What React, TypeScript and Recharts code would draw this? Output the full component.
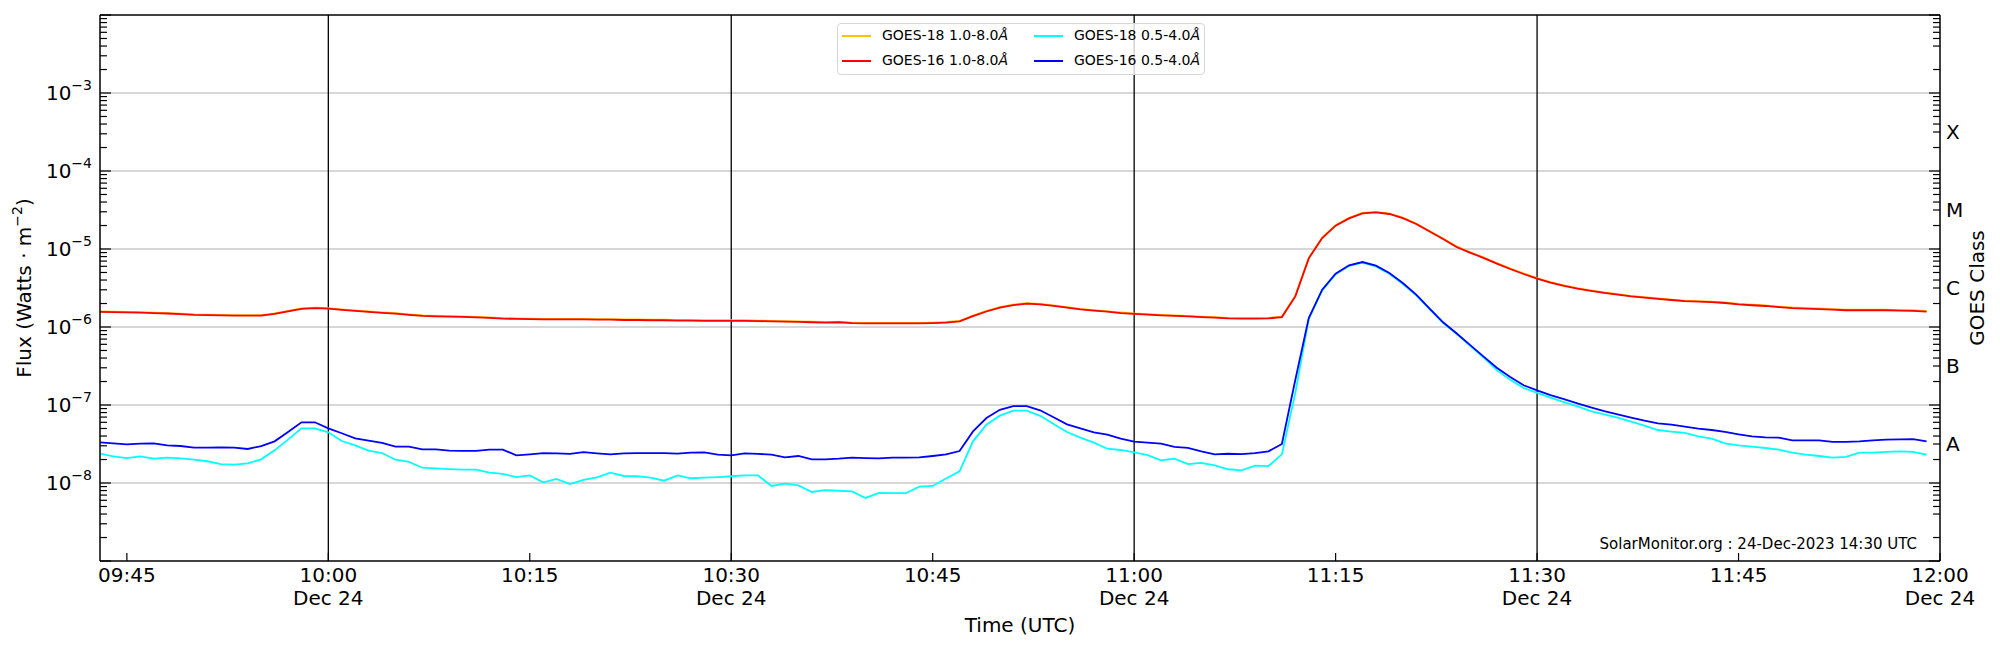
import React from 'react';
import { LineChart, Line, XAxis, YAxis, CartesianGrid, ReferenceLine } from 'recharts';

// one sample per minute, first sample at 09:43 UTC
const START_MINUTE = 9 * 60 + 43;

// GOES-18 1.0-8.0 A (almost hidden under GOES-16)
const goes18Long = [
  1.58e-6, 1.57e-6, 1.56e-6, 1.55e-6, 1.53e-6, 1.51e-6, 1.48e-6, 1.45e-6, 1.44e-6, 1.43e-6,
  1.42e-6, 1.42e-6, 1.42e-6, 1.49e-6, 1.61e-6, 1.73e-6, 1.77e-6, 1.74e-6, 1.68e-6, 1.63e-6,
  1.58e-6, 1.54e-6, 1.5e-6, 1.45e-6, 1.41e-6, 1.39e-6, 1.38e-6, 1.37e-6, 1.35e-6, 1.33e-6,
  1.3e-6, 1.29e-6, 1.28e-6, 1.27e-6, 1.27e-6, 1.27e-6, 1.27e-6, 1.26e-6, 1.26e-6, 1.25e-6,
  1.25e-6, 1.24e-6, 1.24e-6, 1.23e-6, 1.23e-6, 1.22e-6, 1.22e-6, 1.22e-6, 1.22e-6, 1.21e-6,
  1.2e-6, 1.19e-6, 1.18e-6, 1.17e-6, 1.16e-6, 1.16e-6, 1.14e-6, 1.13e-6, 1.13e-6, 1.13e-6,
  1.13e-6, 1.13e-6, 1.14e-6, 1.16e-6, 1.2e-6, 1.4e-6, 1.61e-6, 1.8e-6, 1.94e-6, 2.02e-6,
  1.98e-6, 1.89e-6, 1.8e-6, 1.71e-6, 1.65e-6, 1.59e-6, 1.54e-6, 1.49e-6, 1.46e-6, 1.43e-6,
  1.41e-6, 1.39e-6, 1.36e-6, 1.34e-6, 1.31e-6, 1.3e-6, 1.3e-6, 1.31e-6, 1.36e-6, 2.52e-6,
  7.7e-6, 1.4e-5, 2.02e-5, 2.51e-5, 2.9e-5, 2.99e-5, 2.85e-5, 2.53e-5, 2.12e-5, 1.7e-5,
  1.36e-5, 1.08e-5, 9.15e-6, 7.82e-6, 6.6e-6, 5.63e-6, 4.86e-6, 4.24e-6, 3.76e-6, 3.41e-6,
  3.15e-6, 2.95e-6, 2.77e-6, 2.64e-6, 2.51e-6, 2.42e-6, 2.33e-6, 2.25e-6, 2.18e-6, 2.15e-6,
  2.12e-6, 2.06e-6, 1.98e-6, 1.93e-6, 1.89e-6, 1.83e-6, 1.78e-6, 1.75e-6, 1.73e-6, 1.7e-6,
  1.67e-6, 1.67e-6, 1.67e-6, 1.67e-6, 1.65e-6, 1.64e-6, 1.6e-6,
];

// GOES-16 1.0-8.0 A
const goes16Long = [
  1.56e-6, 1.55e-6, 1.54e-6, 1.53e-6, 1.51e-6, 1.49e-6, 1.46e-6, 1.43e-6, 1.42e-6, 1.41e-6,
  1.4e-6, 1.4e-6, 1.4e-6, 1.47e-6, 1.59e-6, 1.71e-6, 1.75e-6, 1.72e-6, 1.66e-6, 1.61e-6,
  1.56e-6, 1.52e-6, 1.48e-6, 1.43e-6, 1.39e-6, 1.37e-6, 1.36e-6, 1.35e-6, 1.33e-6, 1.31e-6,
  1.28e-6, 1.27e-6, 1.26e-6, 1.25e-6, 1.25e-6, 1.25e-6, 1.25e-6, 1.24e-6, 1.24e-6, 1.23e-6,
  1.23e-6, 1.22e-6, 1.22e-6, 1.21e-6, 1.21e-6, 1.2e-6, 1.2e-6, 1.2e-6, 1.2e-6, 1.19e-6,
  1.18e-6, 1.17e-6, 1.16e-6, 1.15e-6, 1.14e-6, 1.15e-6, 1.12e-6, 1.11e-6, 1.11e-6, 1.11e-6,
  1.11e-6, 1.11e-6, 1.12e-6, 1.14e-6, 1.18e-6, 1.38e-6, 1.58e-6, 1.77e-6, 1.91e-6, 1.99e-6,
  1.95e-6, 1.86e-6, 1.77e-6, 1.68e-6, 1.62e-6, 1.57e-6, 1.51e-6, 1.47e-6, 1.44e-6, 1.41e-6,
  1.39e-6, 1.37e-6, 1.34e-6, 1.32e-6, 1.29e-6, 1.28e-6, 1.28e-6, 1.29e-6, 1.34e-6, 2.47e-6,
  7.59e-6, 1.38e-5, 1.99e-5, 2.47e-5, 2.86e-5, 2.95e-5, 2.81e-5, 2.49e-5, 2.09e-5, 1.68e-5,
  1.34e-5, 1.06e-5, 9.0e-6, 7.7e-6, 6.5e-6, 5.54e-6, 4.78e-6, 4.17e-6, 3.7e-6, 3.36e-6,
  3.1e-6, 2.9e-6, 2.73e-6, 2.6e-6, 2.47e-6, 2.38e-6, 2.29e-6, 2.22e-6, 2.15e-6, 2.12e-6,
  2.09e-6, 2.03e-6, 1.95e-6, 1.9e-6, 1.86e-6, 1.8e-6, 1.75e-6, 1.72e-6, 1.7e-6, 1.67e-6,
  1.64e-6, 1.64e-6, 1.64e-6, 1.64e-6, 1.62e-6, 1.61e-6, 1.57e-6,
];

// GOES-18 0.5-4.0 A
const goes18Short = [
  2.38e-8, 2.2e-8, 2.09e-8, 2.2e-8, 2.05e-8, 2.11e-8, 2.07e-8, 1.99e-8, 1.9e-8, 1.75e-8,
  1.72e-8, 1.79e-8, 2.01e-8, 2.62e-8, 3.6e-8, 5.02e-8, 5.02e-8, 4.46e-8, 3.45e-8, 3.04e-8,
  2.6e-8, 2.42e-8, 1.99e-8, 1.86e-8, 1.57e-8, 1.54e-8, 1.51e-8, 1.48e-8, 1.48e-8, 1.36e-8,
  1.31e-8, 1.19e-8, 1.25e-8, 1.02e-8, 1.13e-8, 9.7e-9, 1.1e-8, 1.18e-8, 1.36e-8, 1.23e-8,
  1.22e-8, 1.17e-8, 1.07e-8, 1.25e-8, 1.15e-8, 1.17e-8, 1.19e-8, 1.22e-8, 1.25e-8, 1.25e-8,
  9.16e-9, 9.84e-9, 9.3e-9, 7.67e-9, 8.1e-9, 7.95e-9, 7.8e-9, 6.43e-9, 7.45e-9, 7.4e-9,
  7.4e-9, 9.0e-9, 9.16e-9, 1.14e-8, 1.41e-8, 3.42e-8, 5.6e-8, 7.3e-8, 8.45e-8, 8.45e-8,
  7.26e-8, 5.7e-8, 4.51e-8, 3.81e-8, 3.29e-8, 2.75e-8, 2.65e-8, 2.47e-8, 2.28e-8, 1.95e-8,
  2.05e-8, 1.75e-8, 1.81e-8, 1.68e-8, 1.5e-8, 1.45e-8, 1.67e-8, 1.65e-8, 2.33e-8, 1.43e-7,
  1.27e-6, 2.95e-6, 4.74e-6, 6.06e-6, 6.68e-6, 5.99e-6, 4.82e-6, 3.59e-6, 2.55e-6, 1.69e-6,
  1.13e-6, 8.15e-7, 5.8e-7, 4.1e-7, 2.8e-7, 2.1e-7, 1.65e-7, 1.43e-7, 1.24e-7, 1.09e-7,
  9.6e-8, 8.37e-8, 7.59e-8, 6.89e-8, 6.11e-8, 5.43e-8, 4.78e-8, 4.55e-8, 4.38e-8, 3.96e-8,
  3.7e-8, 3.23e-8, 3.04e-8, 2.92e-8, 2.81e-8, 2.67e-8, 2.45e-8, 2.31e-8, 2.22e-8, 2.11e-8,
  2.16e-8, 2.45e-8, 2.45e-8, 2.5e-8, 2.54e-8, 2.5e-8, 2.31e-8,
];

// GOES-16 0.5-4.0 A
const goes16Short = [
  3.32e-8, 3.22e-8, 3.13e-8, 3.19e-8, 3.22e-8, 3.04e-8, 2.98e-8, 2.84e-8, 2.84e-8, 2.87e-8,
  2.84e-8, 2.73e-8, 2.98e-8, 3.42e-8, 4.51e-8, 6.0e-8, 6.0e-8, 5.02e-8, 4.34e-8, 3.74e-8,
  3.49e-8, 3.26e-8, 2.92e-8, 2.92e-8, 2.7e-8, 2.7e-8, 2.6e-8, 2.58e-8, 2.58e-8, 2.68e-8,
  2.68e-8, 2.26e-8, 2.33e-8, 2.42e-8, 2.4e-8, 2.36e-8, 2.49e-8, 2.4e-8, 2.33e-8, 2.4e-8,
  2.42e-8, 2.42e-8, 2.42e-8, 2.38e-8, 2.45e-8, 2.47e-8, 2.31e-8, 2.26e-8, 2.4e-8, 2.36e-8,
  2.31e-8, 2.13e-8, 2.22e-8, 2.01e-8, 2.01e-8, 2.05e-8, 2.11e-8, 2.09e-8, 2.07e-8, 2.11e-8,
  2.11e-8, 2.13e-8, 2.22e-8, 2.33e-8, 2.57e-8, 4.59e-8, 6.81e-8, 8.67e-8, 9.7e-8, 9.7e-8,
  8.55e-8, 6.95e-8, 5.65e-8, 5.02e-8, 4.46e-8, 4.17e-8, 3.7e-8, 3.39e-8, 3.29e-8, 3.19e-8,
  2.9e-8, 2.82e-8, 2.55e-8, 2.33e-8, 2.37e-8, 2.35e-8, 2.41e-8, 2.55e-8, 3.16e-8, 2.11e-7,
  1.3e-6, 3.01e-6, 4.83e-6, 6.18e-6, 6.81e-6, 6.11e-6, 4.92e-6, 3.66e-6, 2.6e-6, 1.72e-6,
  1.15e-6, 8.3e-7, 5.9e-7, 4.2e-7, 3.0e-7, 2.28e-7, 1.79e-7, 1.54e-7, 1.34e-7, 1.19e-7,
  1.05e-7, 9.33e-8, 8.37e-8, 7.59e-8, 6.89e-8, 6.3e-8, 5.82e-8, 5.6e-8, 5.27e-8, 4.98e-8,
  4.78e-8, 4.51e-8, 4.21e-8, 3.96e-8, 3.85e-8, 3.81e-8, 3.52e-8, 3.52e-8, 3.52e-8, 3.36e-8,
  3.36e-8, 3.41e-8, 3.52e-8, 3.59e-8, 3.62e-8, 3.66e-8, 3.41e-8,
];

// axis ticks (minutes since 00:00 UTC)
const timeTicks = [585, 600, 615, 630, 645, 660, 675, 690, 705, 720];
const halfHourLines = [600, 630, 660, 690];
const tickDate = 'Dec 24';

const decadeExponents = [-9, -8, -7, -6, -5, -4, -3, -2];
const labelledExponents = [-8, -7, -6, -5, -4, -3];
const classLabels = ['A', 'B', 'C', 'M', 'X'];
const classExponents = [-7.5, -6.5, -5.5, -4.5, -3.5];

const seriesInfo = [
  { key: 'g18l', name: 'GOES-18 1.0-8.0', color: '#ffc000' },
  { key: 'g16l', name: 'GOES-16 1.0-8.0', color: '#ff0000' },
  { key: 'g18s', name: 'GOES-18 0.5-4.0', color: '#00ffff' },
  { key: 'g16s', name: 'GOES-16 0.5-4.0', color: '#0000ff' },
];

const FONT = '"DejaVu Sans", sans-serif';
const WIDTH = 2000;
const HEIGHT = 650;
const PLOT_LEFT = 100;
const PLOT_RIGHT = 1940;
const PLOT_TOP = 15;
const PLOT_BOTTOM = 561;

const data = goes16Long.map((_, i) => ({
  t: START_MINUTE + i,
  g18l: goes18Long[i],
  g16l: goes16Long[i],
  g18s: goes18Short[i],
  g16s: goes16Short[i],
}));

const decades = decadeExponents.map(e => Math.pow(10, e));
const minors: number[] = [];
decadeExponents.slice(0, -1).forEach(e => {
  for (let k = 2; k <= 9; k++) minors.push(k * Math.pow(10, e));
});
const classValues = classExponents.map(e => Math.pow(10, e));

const isDecade = (v: number) => {
  const l = Math.log10(v);
  return Math.abs(l - Math.round(l)) < 1e-6;
};

const FluxTick = (props: any) => {
  const { y, payload } = props;
  const v = payload.value as number;
  const major = isDecade(v);
  const exp = Math.round(Math.log10(v));
  return (
    <g>
      <line x1={PLOT_LEFT} x2={PLOT_LEFT + (major ? 11 : 7)} y1={y} y2={y} stroke="#000" strokeWidth={1.2} />
      {major && labelledExponents.includes(exp) && (
        <text x={PLOT_LEFT - 8} y={y + 7} textAnchor="end" fontSize={20} fontFamily={FONT} fill="#000">
          10<tspan dy={-10} fontSize={14}>{`\u2212${-exp}`}</tspan>
        </text>
      )}
    </g>
  );
};

const ClassTick = (props: any) => {
  const { y, payload } = props;
  const v = payload.value as number;
  const idx = classValues.findIndex(c => Math.abs(c - v) / c < 1e-6);
  const len = isDecade(v) ? 11 : 7;
  return (
    <g>
      <line x1={PLOT_RIGHT - len} x2={PLOT_RIGHT} y1={y} y2={y} stroke="#000" strokeWidth={1.2} />
      {idx >= 0 && (
        <text x={PLOT_RIGHT + 6} y={y + 7} fontSize={20} fontFamily={FONT} fill="#000">
          {classLabels[idx]}
        </text>
      )}
    </g>
  );
};

const TimeTick = (props: any) => {
  const { x, payload } = props;
  const t = payload.value as number;
  const hh = String(Math.floor(t / 60)).padStart(2, '0');
  const mm = String(t % 60).padStart(2, '0');
  return (
    <g>
      <line x1={x} x2={x} y1={PLOT_BOTTOM} y2={PLOT_BOTTOM - 8} stroke="#000" strokeWidth={1.2} />
      <text x={x} y={582} textAnchor="middle" fontSize={20} fontFamily={FONT} fill="#000">
        {`${hh}:${mm}`}
      </text>
      {t % 30 === 0 && (
        <text x={x} y={605} textAnchor="middle" fontSize={20} fontFamily={FONT} fill="#000">
          {tickDate}
        </text>
      )}
    </g>
  );
};

const Legend = () => (
  <div
    style={{
      position: 'absolute', left: 837, top: 23, width: 366, height: 50,
      border: '1px solid #d6d6d6', borderRadius: 4, background: 'rgba(255,255,255,0.8)',
      fontFamily: FONT, fontSize: 14, color: '#000',
    }}
  >
    {seriesInfo.map((s, i) => {
      const col = i < 2 ? 0 : 1;
      const row = i % 2;
      const left = col === 0 ? 4 : 196;
      const top = row === 0 ? 12 : 37;
      return (
        <div key={s.key}>
          <div style={{ position: 'absolute', left, top: top - 1, width: 29, height: 1.5, background: s.color }} />
          <div style={{ position: 'absolute', left: left + 40, top: top - 9, lineHeight: '17px', whiteSpace: 'nowrap' }}>
            {s.name}<i>Å</i>
          </div>
        </div>
      );
    })}
  </div>
);

const App: React.FC = () => {
  const midY = (PLOT_TOP + PLOT_BOTTOM) / 2;
  return (
    <div style={{ position: 'absolute', left: 0, top: 0, width: WIDTH, height: HEIGHT, background: '#fff' }}>
      <LineChart width={WIDTH} height={HEIGHT} data={data} margin={{ top: PLOT_TOP, right: 0, bottom: 0, left: 0 }}>
        <CartesianGrid yAxisId="flux" vertical={false} horizontalValues={decades.slice(1, -1)} stroke="#b0b0b0" strokeWidth={1.2} />
        <CartesianGrid yAxisId="flux" horizontal={false} verticalValues={halfHourLines} stroke="#000" strokeWidth={1.3} />
        <XAxis
          dataKey="t"
          type="number"
          domain={[START_MINUTE, 720]}
          allowDataOverflow
          ticks={timeTicks}
          interval={0}
          tick={TimeTick}
          tickLine={false}
          axisLine={{ stroke: '#000', strokeWidth: 1.5 }}
          height={HEIGHT - PLOT_BOTTOM}
        />
        <YAxis
          yAxisId="flux"
          scale="log"
          type="number"
          domain={[1e-9, 1e-2]}
          allowDataOverflow
          ticks={[...decades, ...minors]}
          interval={0}
          tick={FluxTick}
          tickLine={false}
          axisLine={{ stroke: '#000', strokeWidth: 1.5 }}
          width={PLOT_LEFT}
        />
        <YAxis
          yAxisId="goes"
          orientation="right"
          scale="log"
          type="number"
          domain={[1e-9, 1e-2]}
          allowDataOverflow
          ticks={[...decades, ...minors.filter(m => Math.abs(Math.log10(m / 3)) % 1 !== 0), ...classValues]}
          interval={0}
          tick={ClassTick}
          tickLine={false}
          axisLine={{ stroke: '#000', strokeWidth: 1.5 }}
          width={WIDTH - PLOT_RIGHT}
        />
        <ReferenceLine yAxisId="flux" y={1e-2} stroke="#000" strokeWidth={1.5} />
        {seriesInfo.map(s => (
          <Line
            key={s.key}
            yAxisId={s.key === 'g18l' ? 'goes' : 'flux'}
            type="linear"
            dataKey={s.key}
            stroke={s.color}
            strokeWidth={1.8}
            dot={false}
            activeDot={false}
            isAnimationActive={false}
          />
        ))}
      </LineChart>
      <svg width={WIDTH} height={HEIGHT} style={{ position: 'absolute', left: 0, top: 0, pointerEvents: 'none' }}>
        <text transform={`translate(31,${midY}) rotate(-90)`} textAnchor="middle" fontSize={20} fontFamily={FONT}>
          Flux (Watts · m<tspan dy={-9} fontSize={14}>{'\u22122'}</tspan><tspan dy={9}>)</tspan>
        </text>
        <text transform={`translate(1984,${midY}) rotate(-90)`} textAnchor="middle" fontSize={20} fontFamily={FONT}>
          GOES Class
        </text>
        <text x={(PLOT_LEFT + PLOT_RIGHT) / 2} y={632} textAnchor="middle" fontSize={20} fontFamily={FONT}>
          Time (UTC)
        </text>
        <text x={1917} y={549} textAnchor="end" fontSize={15} fontFamily={FONT}>
          SolarMonitor.org : 24-Dec-2023 14:30 UTC
        </text>
      </svg>
      <Legend />
    </div>
  );
};

export default App;
